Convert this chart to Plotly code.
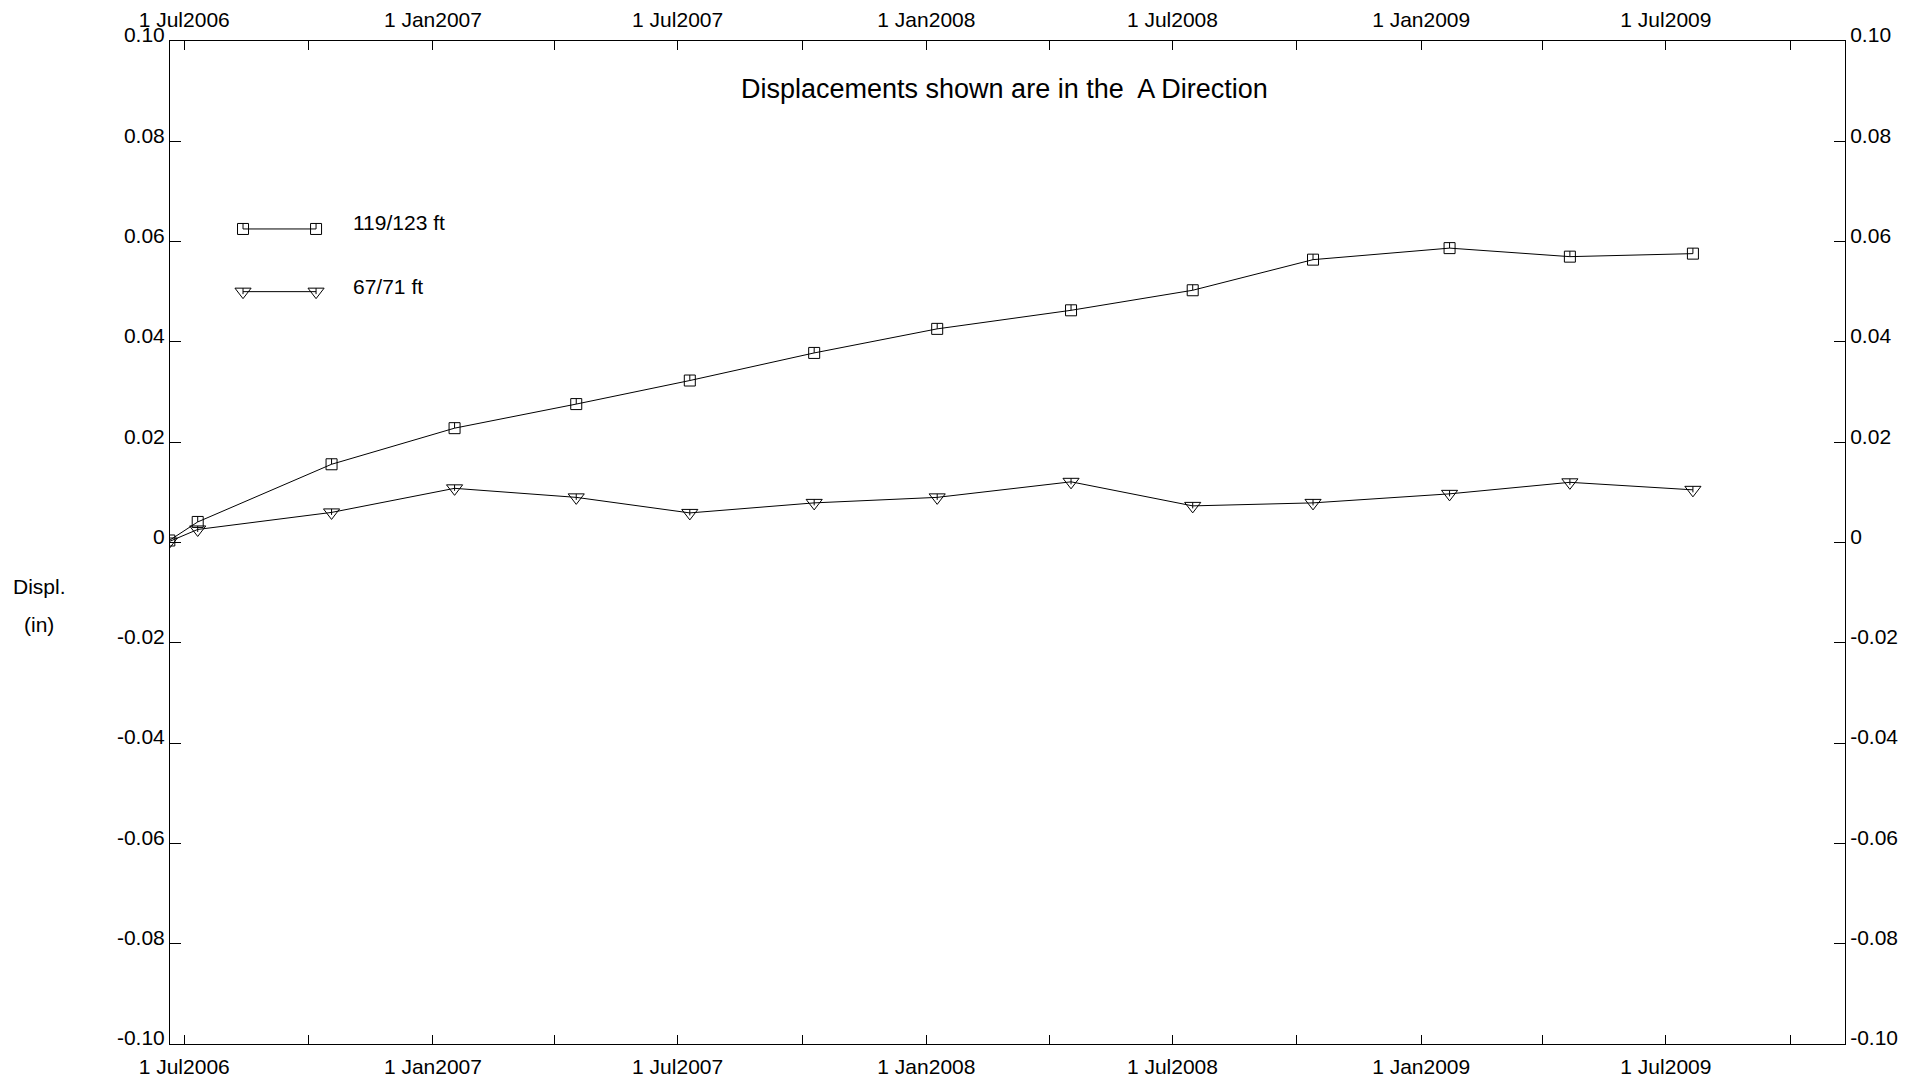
import plotly.graph_objects as go

# ---------------- data ----------------
dates = ["2006-06-20", "2006-07-11", "2006-10-18", "2007-01-17", "2007-04-17",
         "2007-07-10", "2007-10-10", "2008-01-09", "2008-04-17", "2008-07-16",
         "2008-10-13", "2009-01-22", "2009-04-21", "2009-07-21"]
d_119_123 = [0.0004, 0.0041, 0.0156, 0.0228, 0.0276, 0.0323, 0.0378, 0.0426,
             0.0463, 0.0503, 0.0564, 0.0587, 0.0570, 0.0576]
d_67_71 = [0.0002, 0.0026, 0.0060, 0.0108, 0.0090, 0.0059, 0.0079, 0.0090,
           0.0121, 0.0073, 0.0079, 0.0097, 0.0120, 0.0105]
series_names = ["119/123 ft", "67/71 ft"]

x_tickvals = ["2006-07-01", "2006-10-01", "2007-01-01", "2007-04-01", "2007-07-01",
              "2007-10-01", "2008-01-01", "2008-04-01", "2008-07-01", "2008-10-01",
              "2009-01-01", "2009-04-01", "2009-07-01", "2009-10-01"]
x_ticktext = ["1 Jul2006", "", "1 Jan2007", "", "1 Jul2007", "", "1 Jan2008", "",
              "1 Jul2008", "", "1 Jan2009", "", "1 Jul2009", ""]
y_tickvals = [0.10, 0.08, 0.06, 0.04, 0.02, 0.0, -0.02, -0.04, -0.06, -0.08, -0.10]
y_ticktext = ["0.10", "0.08", "0.06", "0.04", "0.02", "0", "-0.02", "-0.04", "-0.06", "-0.08", "-0.10"]

title_text = "Displacements shown are in the  A Direction"
x_range = ["2006-06-20 12:00", "2009-11-10 12:00"]
y_range = [-0.10, 0.10]

FONT = "Liberation Sans, Arial, sans-serif"
BLACK = "#000000"
FS = 21
PLOT_H_PX = 1003.0  # plot area height, used to size the small marker ticks

SQ = dict(symbol="square-open", size=11, color=BLACK, line=dict(width=1, color=BLACK))
TRI = dict(symbol="triangle-down-open", size=14, color=BLACK, line=dict(width=1, color=BLACK))


def px_to_data(px, span):
    return px / PLOT_H_PX * span


def tick_err(up_px, down_px, span):
    # small vertical stroke drawn inside each marker (as in the original symbols)
    return dict(type="constant", symmetric=False, value=px_to_data(up_px, span),
                valueminus=px_to_data(down_px, span), width=0, thickness=1, color=BLACK)


yspan = y_range[1] - y_range[0]

fig = go.Figure()

fig.add_trace(go.Scatter(
    x=dates, y=d_119_123, mode="lines+markers", name=series_names[0],
    line=dict(color=BLACK, width=1), marker=SQ, error_y=tick_err(5.5, 0, yspan),
    showlegend=False, xaxis="x", yaxis="y"))
fig.add_trace(go.Scatter(
    x=dates, y=d_67_71, mode="lines+markers", name=series_names[1],
    line=dict(color=BLACK, width=1), marker=TRI, error_y=tick_err(3.5, 2.5, yspan),
    showlegend=False, xaxis="x", yaxis="y"))

# invisible trace to activate the top x axis and right y axis
fig.add_trace(go.Scatter(x=[dates[0]], y=[d_119_123[0]], xaxis="x2", yaxis="y2",
                         mode="markers", marker=dict(opacity=0), showlegend=False, hoverinfo="skip"))

# legend glyphs (drawn on a hidden helper axis spanning the plot area)
leg_x = [0.0436, 0.0872]
leg_y = [0.8126, 0.7501]
fig.add_trace(go.Scatter(
    x=leg_x, y=[leg_y[0]] * 2, mode="lines+markers",
    line=dict(color=BLACK, width=1), marker=SQ, error_y=tick_err(5.5, 0, 1.0),
    showlegend=False, hoverinfo="skip", xaxis="x3", yaxis="y3"))
fig.add_trace(go.Scatter(
    x=leg_x, y=[leg_y[1]] * 2, mode="lines+markers",
    line=dict(color=BLACK, width=1), marker=TRI, error_y=tick_err(3.5, 2.5, 1.0),
    showlegend=False, hoverinfo="skip", xaxis="x3", yaxis="y3"))

tickfont = dict(family=FONT, size=FS, color=BLACK)

common_x = dict(type="date", range=x_range, tickmode="array", tickvals=x_tickvals,
                ticktext=x_ticktext, ticks="inside", ticklen=9, tickwidth=1, tickcolor=BLACK,
                showline=True, linecolor=BLACK, linewidth=1, showgrid=False, zeroline=False,
                tickfont=tickfont, tickangle=0, automargin=False)
common_y = dict(range=y_range, tickmode="array", tickvals=y_tickvals, ticktext=y_ticktext,
                ticks="inside", ticklen=11, tickwidth=1, tickcolor=BLACK,
                showline=True, linecolor=BLACK, linewidth=1, showgrid=False, zeroline=False,
                tickfont=tickfont, ticklabelshift=-6, automargin=False)

fig.update_layout(
    width=1906, height=1081,
    margin=dict(l=170, r=61, t=41, b=37, autoexpand=False),
    paper_bgcolor="white", plot_bgcolor="rgba(0,0,0,0)",
    font=dict(family=FONT, size=FS, color=BLACK),
    showlegend=False,
    xaxis=dict(**common_x, side="bottom", anchor="y", ticklabelstandoff=4),
    xaxis2=dict(**common_x, side="top", overlaying="x", anchor="y", ticklabelstandoff=5),
    yaxis=dict(**common_y, side="left", anchor="x", ticklabelstandoff=0),
    yaxis2=dict(**common_y, side="right", overlaying="y", anchor="x", ticklabelstandoff=0),
    xaxis3=dict(range=[0, 1], domain=[0, 1], visible=False, fixedrange=True, anchor="y3"),
    yaxis3=dict(range=[0, 1], domain=[0, 1], visible=False, fixedrange=True, anchor="x3"),
)

annotations = [
    dict(text=title_text, x=0.498, y=0.952, xref="paper", yref="paper",
         xanchor="center", yanchor="middle", showarrow=False,
         font=dict(family=FONT, size=27, color=BLACK)),
    dict(text=series_names[0], x=0.1078, y=0.8186, xref="paper", yref="paper",
         xanchor="left", yanchor="middle", showarrow=False,
         font=dict(family=FONT, size=FS, color=BLACK)),
    dict(text=series_names[1], x=0.1078, y=0.7557, xref="paper", yref="paper",
         xanchor="left", yanchor="middle", showarrow=False,
         font=dict(family=FONT, size=FS, color=BLACK)),
    dict(text="Displ.", x=-0.0782, y=0.4566, xref="paper", yref="paper",
         xanchor="center", yanchor="middle", showarrow=False,
         font=dict(family=FONT, size=FS, color=BLACK)),
    dict(text="(in)", x=-0.0782, y=0.4187, xref="paper", yref="paper",
         xanchor="center", yanchor="middle", showarrow=False,
         font=dict(family=FONT, size=FS, color=BLACK)),
]
fig.update_layout(annotations=annotations)

fig.write_html("out.html", config={"displayModeBar": False},
               post_script="document.body.style.margin='0';document.body.style.overflow='hidden';")
